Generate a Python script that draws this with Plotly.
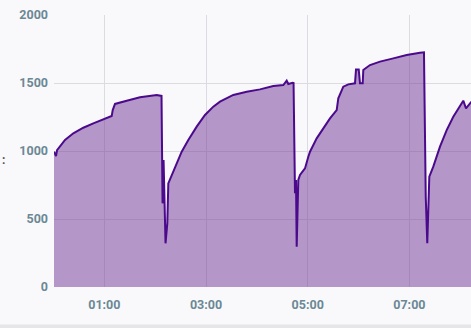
import pandas as pd
import plotly.graph_objects as go

times = [
    "00:00:36", "00:01:48", "00:03:00", "00:04:12", "00:07:42", "00:13:36", "00:23:24",
    "00:35:12", "00:47:00", "00:58:48", "01:08:42", "01:09:54", "01:12:36", "01:26:24",
    "01:42:06", "02:01:48", "02:05:42", "02:07:30",
    "02:08:42", "02:09:54", "02:12:12", "02:14:18", "02:15:30", "02:23:24", "02:31:18",
    "02:39:06", "02:49:00", "02:58:48", "03:08:36", "03:16:30", "03:32:12", "03:48:00",
    "04:03:42", "04:19:24", "04:31:12", "04:35:12", "04:37:06", "04:42:18", "04:43:18",
    "04:45:00", "04:46:12", "04:47:00", "04:48:54", "04:50:54", "04:54:48", "04:56:48",
    "05:00:42", "05:02:42", "05:10:36", "05:18:24", "05:26:18", "05:34:12", "05:36:06",
    "05:42:00", "05:47:54", "05:55:48", "05:57:00", "06:00:12", "06:01:42", "06:04:54",
    "06:05:36", "06:13:30", "06:25:18", "06:41:00", "06:56:48", "07:12:30", "07:17:12",
    "07:19:18", "07:21:06", "07:23:30", "07:28:12", "07:36:06", "07:44:00", "07:51:48",
    "07:59:42", "08:03:36", "08:06:48", "08:12:42", "08:20:00",
]
values = [
    995, 975, 963, 1007, 1037, 1081, 1130,
    1171, 1203, 1233, 1257, 1301, 1346, 1370,
    1395, 1412, 1410, 1405,
    615, 934, 321, 468, 762, 885, 995,
    1081, 1179, 1265, 1326, 1363, 1412, 1436,
    1453, 1478, 1485, 1517, 1493, 1502, 1500,
    689, 787, 296, 787, 824, 860, 872,
    958, 995, 1093, 1167, 1240, 1301, 1387,
    1473, 1490, 1498, 1600, 1600, 1498, 1498,
    1596, 1632, 1657, 1681, 1706, 1723, 1726,
    664, 321, 811, 885, 1032, 1154, 1252,
    1326, 1370, 1314, 1358, 1390,
]
tick_times = ["01:00:00", "03:00:00", "05:00:00", "07:00:00"]
tick_labels = ["01:00", "03:00", "05:00", "07:00"]
y_ticks = [0, 500, 1000, 1500, 2000]

day = "2024-01-01 "
x = pd.to_datetime([day + t for t in times])
tickvals = pd.to_datetime([day + t for t in tick_times])

fig = go.Figure()
fig.add_trace(go.Scatter(
    x=x, y=values, mode="lines", fill="tozeroy",
    line=dict(color="#4b0a8c", width=2),
    fillcolor="rgba(113,51,150,0.5)",
    hoverinfo="skip",
))

font = dict(family="Roboto", size=12.5, color="#6b8894", weight="bold")
bg = "#f9f9fc"
fig.update_layout(
    width=471, height=328,
    margin=dict(l=54, r=0, t=15, b=41),
    paper_bgcolor=bg, plot_bgcolor=bg,
    showlegend=False,
    font=font,
    xaxis=dict(
        type="date",
        range=[pd.Timestamp(day + "00:00:36"), pd.Timestamp(day + "08:12:42")],
        tickvals=tickvals, ticktext=tick_labels,
        showgrid=True, gridcolor="#dcdce0", gridwidth=1,
        zeroline=False, showline=False, ticks="",
        tickfont=font, ticklabelstandoff=8,
    ),
    yaxis=dict(
        range=[0, 2000], tickvals=y_ticks,
        showgrid=True, gridcolor="#dcdce0", gridwidth=1,
        zeroline=False, showline=False, ticks="",
        tickfont=font, ticklabelstandoff=5,
    ),
    shapes=[dict(type="rect", xref="paper", yref="paper",
                 x0=-0.2, x1=1.0, y0=-0.1507, y1=-0.1375,
                 fillcolor="#e6e6e8", line=dict(width=0), layer="above")],
    annotations=[dict(text=":", xref="paper", yref="paper", x=-54/417, y=(287 - 160) / 272,
                      xanchor="left", yanchor="middle", showarrow=False,
                      font=dict(family="Roboto", size=12, color="#555", weight="bold"))],
)

fig.write_html("out.html")
